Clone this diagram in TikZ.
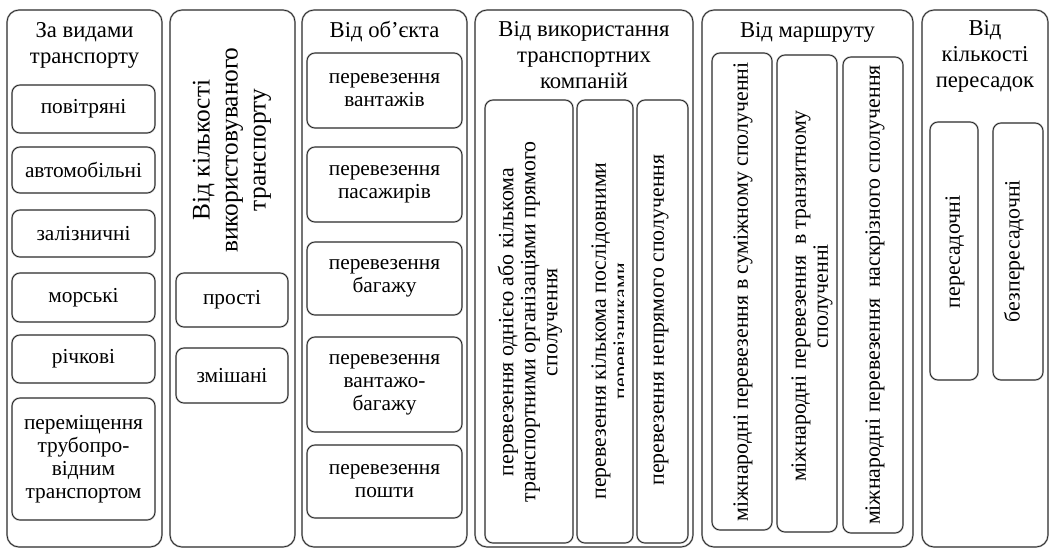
\documentclass[tikz,border=0pt]{standalone}
\usepackage{fontspec}
\setmainfont{Liberation Serif}
\usetikzlibrary{fit}
\begin{document}
\begin{tikzpicture}[x=0.75pt,y=-0.75pt,
  obox/.style={draw=gray!70, double=black!90, double distance=0.45pt, line width=0.45pt, rounded corners=9pt, inner sep=0pt},
  ibox/.style={obox, rounded corners=6pt},
  ttl/.style={font=\fontsize{17}{19.5}\selectfont, align=center, inner sep=0pt},
  itx/.style={font=\fontsize{16}{17.25}\selectfont, align=center, inner sep=0pt},
  vtx/.style={font=\fontsize{16.4}{16.5}\selectfont, align=center, inner sep=0pt, rotate=90},
]
\useasboundingbox (0,0) rectangle (1053,551);

% column 1
\node[obox, fit={(7,10)(162,547)}] (c1) {};
\node[ttl] (t1) at (84.5,45) {За видами\\транспорту};
\node[ibox, fit={(12,85)(155,133)}] (a1) {};
\node[itx] (a1t) at (a1) {повітряні};
\node[ibox, fit={(12,147)(155,193)}] (a2) {};
\node[itx] (a2t) at (a2) {автомобільні};
\node[ibox, fit={(12,210)(155,257)}] (a3) {};
\node[itx] (a3t) at (a3) {залізничні};
\node[ibox, fit={(12,273)(155,322)}] (a4) {};
\node[itx] (a4t) at (a4) {морські};
\node[ibox, fit={(12,335)(155,383)}] (a5) {};
\node[itx] (a5t) at (a5) {річкові};
\node[ibox, fit={(12,398)(155,520)}] (a6) {};
\node[itx] (a6t) at (a6) {переміщення\\трубопро-\\відним\\транспортом};

% column 2
\node[obox, fit={(170,10)(295,547)}] (c2) {};
\node[ttl, rotate=90, font=\fontsize{19}{21}\selectfont] (t2) at (232,150) {Від кількості\\використовуваного\\транспорту};
\node[ibox, fit={(176,273)(288,327)}] (b1) {};
\node[itx] (b1t) at (b1) {прості};
\node[ibox, fit={(176,348)(288,403)}] (b2) {};
\node[itx] (b2t) at (b2) {змішані};

% column 3
\node[obox, fit={(302,10)(467,547)}] (c3) {};
\node[ttl] (t3) at (384.5,32) {Від об’єкта};
\node[ibox, fit={(307,53)(462,128)}] (o1) {};
\node[itx] (o1t) at (o1) {перевезення\\вантажів};
\node[ibox, fit={(307,147)(462,222)}] (o2) {};
\node[itx] (o2t) at (o2) {перевезення\\пасажирів};
\node[ibox, fit={(307,242)(462,315)}] (o3) {};
\node[itx] (o3t) at (o3) {перевезення\\багажу};
\node[ibox, fit={(307,337)(462,432)}] (o4) {};
\node[itx] (o4t) at (o4) {перевезення\\вантажо-\\багажу};
\node[ibox, fit={(307,445)(462,518)}] (o5) {};
\node[itx] (o5t) at (o5) {перевезення\\пошти};

% column 4
\node[obox, fit={(475,10)(693,547)}] (c4) {};
\node[ttl] (t4) at (584,55) {Від використання\\транспортних\\компаній};
\node[ibox, fit={(485,100)(573,543)}] (k1) {};
\node[vtx] (k1t) at (530,322) {перевезення однією або кількома\\транспортними організаціями прямого\\сполучення};
\node[ibox, fit={(577,100)(633,543)}] (k2) {};
\begin{scope}
\clip (577,95) rectangle (623.5,548);
\node[vtx] (k2t) at (612,331) {перевезення кількома послідовними\\перевізниками};
\end{scope}
\node[ibox, fit={(637,100)(688,543)}] (k3) {};
\node[vtx] (k3t) at (661,320) {перевезення непрямого сполучення};

% column 5
\node[obox, fit={(702,10)(913,547)}] (c5) {};
\node[ttl] (t5) at (807.5,32) {Від маршруту};
\node[ibox, fit={(712,53)(772,530)}] (m1) {};
\node[vtx] (m1t) at (743,292) {міжнародні перевезення в суміжному сполученні};
\node[ibox, fit={(777,55)(837,532)}] (m2) {};
\node[vtx] (m2t) at (812,296) {міжнародні перевезення \ в транзитному\\сполученні};
\node[ibox, fit={(843,57)(903,533)}] (m3) {};
\node[vtx] (m3t) at (875,295) {міжнародні перевезення \ наскрізного сполучення};

% column 6
\node[obox, fit={(922,10)(1048,547)}] (c6) {};
\node[ttl] (t6) at (985,56) {Від\\кількості\\пересадок};
\node[ibox, fit={(930,122)(978,380)}] (p1) {};
\node[vtx] (p1t) at (955,252) {пересадочні};
\node[ibox, fit={(993,123)(1043,380)}] (p2) {};
\node[vtx] (p2t) at (1014,251) {безпересадочні};
\end{tikzpicture}
\end{document}
